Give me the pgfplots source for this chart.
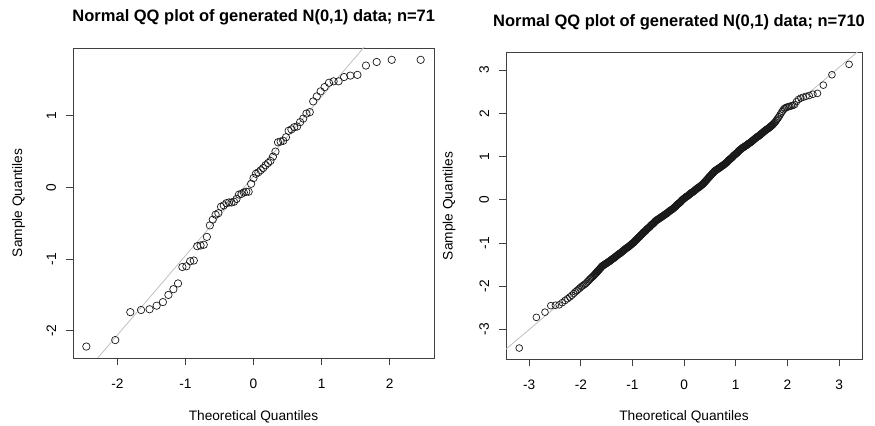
\documentclass[border=0pt]{standalone}
\usepackage{pgfplots}
\pgfplotsset{compat=1.18}
\usepackage{pgfplotstable}
\usepackage{fontspec}
\setmainfont{Liberation Sans}

% n = 71 : theoretical quantile, sample quantile
\pgfplotstableread{
x y
-2.456 -2.22
-2.031 -2.13
-1.810 -1.74
-1.652 -1.71
-1.527 -1.70
-1.423 -1.65
-1.331 -1.60
-1.250 -1.50
-1.177 -1.42
-1.109 -1.34
-1.045 -1.11
-0.986 -1.10
-0.930 -1.03
-0.877 -1.02
-0.827 -0.82
-0.778 -0.81
-0.731 -0.80
-0.685 -0.69
-0.641 -0.53
-0.599 -0.45
-0.557 -0.38
-0.516 -0.36
-0.477 -0.27
-0.437 -0.25
-0.398 -0.22
-0.360 -0.21
-0.323 -0.21
-0.286 -0.20
-0.249 -0.16
-0.214 -0.10
-0.177 -0.09
-0.142 -0.07
-0.106 -0.06
-0.071 -0.06
-0.035 0.05
0.000 0.13
0.035 0.19
0.071 0.21
0.106 0.24
0.142 0.27
0.177 0.31
0.214 0.34
0.249 0.37
0.286 0.43
0.323 0.50
0.360 0.63
0.398 0.64
0.437 0.65
0.477 0.70
0.516 0.79
0.557 0.81
0.599 0.84
0.641 0.85
0.685 0.91
0.731 0.96
0.778 1.03
0.827 1.05
0.877 1.20
0.930 1.27
0.986 1.34
1.045 1.40
1.109 1.46
1.177 1.48
1.250 1.48
1.331 1.54
1.423 1.56
1.527 1.57
1.652 1.70
1.810 1.75
2.031 1.78
2.456 1.78
}\leftdata

% n = 710 : theoretical quantile, sample quantile
\pgfplotstableread{
x y
-3.194 -3.43
-2.862 -2.72
-2.695 -2.60
-2.582 -2.45
-2.494 -2.44
-2.421 -2.43
-2.360 -2.38
-2.306 -2.33
-2.260 -2.29
-2.215 -2.25
-2.176 -2.21
-2.139 -2.17
-2.106 -2.13
-2.075 -2.10
-2.045 -2.07
-2.018 -2.04
-1.991 -2.01
-1.966 -1.99
-1.942 -1.97
-1.920 -1.95
-1.898 -1.93
-1.876 -1.90
-1.856 -1.88
-1.837 -1.85
-1.818 -1.83
-1.800 -1.81
-1.782 -1.79
-1.765 -1.77
-1.749 -1.75
-1.733 -1.73
-1.72 -1.71
-1.71 -1.70
-1.70 -1.69
-1.69 -1.67
-1.68 -1.66
-1.67 -1.65
-1.66 -1.63
-1.65 -1.62
-1.64 -1.61
-1.63 -1.59
-1.62 -1.58
-1.61 -1.57
-1.60 -1.55
-1.59 -1.54
-1.58 -1.53
-1.57 -1.52
-1.56 -1.51
-1.55 -1.51
-1.54 -1.50
-1.53 -1.49
-1.52 -1.48
-1.51 -1.47
-1.50 -1.47
-1.49 -1.46
-1.48 -1.45
-1.47 -1.44
-1.46 -1.43
-1.45 -1.43
-1.44 -1.42
-1.43 -1.41
-1.42 -1.40
-1.41 -1.39
-1.40 -1.38
-1.39 -1.37
-1.38 -1.36
-1.37 -1.36
-1.36 -1.35
-1.35 -1.34
-1.34 -1.33
-1.33 -1.32
-1.32 -1.31
-1.31 -1.30
-1.30 -1.29
-1.29 -1.28
-1.28 -1.27
-1.27 -1.26
-1.26 -1.25
-1.25 -1.25
-1.24 -1.24
-1.23 -1.23
-1.22 -1.22
-1.21 -1.21
-1.20 -1.20
-1.19 -1.19
-1.18 -1.18
-1.17 -1.17
-1.16 -1.16
-1.15 -1.15
-1.14 -1.14
-1.13 -1.13
-1.12 -1.12
-1.11 -1.11
-1.10 -1.11
-1.09 -1.10
-1.08 -1.09
-1.07 -1.08
-1.06 -1.07
-1.05 -1.06
-1.04 -1.05
-1.03 -1.04
-1.02 -1.03
-1.01 -1.02
-1.00 -1.01
-0.99 -1.00
-0.98 -0.99
-0.97 -0.98
-0.96 -0.97
-0.95 -0.95
-0.94 -0.94
-0.93 -0.93
-0.92 -0.92
-0.91 -0.91
-0.90 -0.89
-0.89 -0.88
-0.88 -0.87
-0.87 -0.86
-0.86 -0.85
-0.85 -0.83
-0.84 -0.82
-0.83 -0.81
-0.82 -0.80
-0.81 -0.79
-0.80 -0.77
-0.79 -0.76
-0.78 -0.75
-0.77 -0.74
-0.76 -0.73
-0.75 -0.72
-0.74 -0.71
-0.73 -0.69
-0.72 -0.68
-0.71 -0.67
-0.70 -0.66
-0.69 -0.65
-0.68 -0.64
-0.67 -0.63
-0.66 -0.62
-0.65 -0.60
-0.64 -0.59
-0.63 -0.58
-0.62 -0.57
-0.61 -0.56
-0.60 -0.55
-0.59 -0.54
-0.58 -0.53
-0.57 -0.51
-0.56 -0.50
-0.55 -0.49
-0.54 -0.48
-0.53 -0.47
-0.52 -0.46
-0.51 -0.46
-0.50 -0.45
-0.49 -0.44
-0.48 -0.43
-0.47 -0.42
-0.46 -0.42
-0.45 -0.41
-0.44 -0.40
-0.43 -0.39
-0.42 -0.38
-0.41 -0.38
-0.40 -0.37
-0.39 -0.36
-0.38 -0.35
-0.37 -0.34
-0.36 -0.33
-0.35 -0.33
-0.34 -0.32
-0.33 -0.31
-0.32 -0.30
-0.31 -0.29
-0.30 -0.28
-0.29 -0.27
-0.28 -0.26
-0.27 -0.25
-0.26 -0.24
-0.25 -0.24
-0.24 -0.23
-0.23 -0.22
-0.22 -0.21
-0.21 -0.20
-0.20 -0.19
-0.19 -0.18
-0.18 -0.17
-0.17 -0.16
-0.16 -0.15
-0.15 -0.13
-0.14 -0.12
-0.13 -0.11
-0.12 -0.10
-0.11 -0.09
-0.10 -0.08
-0.09 -0.07
-0.08 -0.06
-0.07 -0.05
-0.06 -0.04
-0.05 -0.02
-0.04 -0.01
-0.03 0.00
-0.02 0.01
-0.01 0.02
0.00 0.03
0.01 0.04
0.02 0.05
0.03 0.06
0.04 0.07
0.05 0.08
0.06 0.08
0.07 0.09
0.08 0.10
0.09 0.11
0.10 0.12
0.11 0.13
0.12 0.14
0.13 0.15
0.14 0.16
0.15 0.17
0.16 0.17
0.17 0.18
0.18 0.19
0.19 0.20
0.20 0.21
0.21 0.22
0.22 0.23
0.23 0.24
0.24 0.25
0.25 0.26
0.26 0.27
0.27 0.28
0.28 0.28
0.29 0.29
0.30 0.30
0.31 0.31
0.32 0.32
0.33 0.33
0.34 0.34
0.35 0.35
0.36 0.36
0.37 0.37
0.38 0.38
0.39 0.40
0.40 0.41
0.41 0.42
0.42 0.44
0.43 0.45
0.44 0.46
0.45 0.48
0.46 0.49
0.47 0.50
0.48 0.52
0.49 0.53
0.50 0.54
0.51 0.56
0.52 0.57
0.53 0.58
0.54 0.60
0.55 0.61
0.56 0.62
0.57 0.63
0.58 0.65
0.59 0.66
0.60 0.67
0.61 0.68
0.62 0.69
0.63 0.69
0.64 0.70
0.65 0.71
0.66 0.72
0.67 0.73
0.68 0.73
0.69 0.74
0.70 0.75
0.71 0.76
0.72 0.77
0.73 0.78
0.74 0.79
0.75 0.79
0.76 0.80
0.77 0.81
0.78 0.82
0.79 0.83
0.80 0.84
0.81 0.85
0.82 0.86
0.83 0.87
0.84 0.88
0.85 0.90
0.86 0.91
0.87 0.92
0.88 0.93
0.89 0.94
0.90 0.95
0.91 0.96
0.92 0.97
0.93 0.98
0.94 0.99
0.95 1.01
0.96 1.02
0.97 1.03
0.98 1.04
0.99 1.05
1.00 1.06
1.01 1.07
1.02 1.08
1.03 1.09
1.04 1.10
1.05 1.12
1.06 1.13
1.07 1.14
1.08 1.15
1.09 1.16
1.10 1.17
1.11 1.18
1.12 1.19
1.13 1.20
1.14 1.21
1.15 1.21
1.16 1.22
1.17 1.23
1.18 1.24
1.19 1.25
1.20 1.25
1.21 1.26
1.22 1.27
1.23 1.28
1.24 1.29
1.25 1.30
1.26 1.31
1.27 1.31
1.28 1.32
1.29 1.33
1.30 1.34
1.31 1.35
1.32 1.36
1.33 1.37
1.34 1.38
1.35 1.39
1.36 1.40
1.37 1.41
1.38 1.42
1.39 1.43
1.40 1.44
1.41 1.45
1.42 1.46
1.43 1.46
1.44 1.47
1.45 1.48
1.46 1.49
1.47 1.50
1.48 1.51
1.49 1.52
1.50 1.53
1.51 1.54
1.52 1.55
1.53 1.56
1.54 1.57
1.55 1.58
1.56 1.59
1.57 1.60
1.58 1.61
1.59 1.62
1.60 1.63
1.61 1.63
1.62 1.64
1.63 1.65
1.64 1.66
1.65 1.67
1.66 1.68
1.67 1.69
1.68 1.70
1.69 1.71
1.70 1.72
1.71 1.73
1.72 1.74
1.733 1.76
1.749 1.78
1.765 1.80
1.782 1.83
1.800 1.86
1.818 1.89
1.837 1.92
1.856 1.96
1.876 2.00
1.898 2.04
1.920 2.08
1.942 2.11
1.966 2.13
1.991 2.14
2.018 2.15
2.045 2.16
2.075 2.17
2.106 2.18
2.139 2.20
2.176 2.27
2.215 2.32
2.260 2.35
2.306 2.37
2.360 2.39
2.421 2.41
2.494 2.44
2.582 2.46
2.695 2.65
2.862 2.89
3.194 3.13
}\rightdata

\pgfplotsset{
  qq/.style={
    scale only axis,
    anchor=south west,
    axis line style={black!75, line width=0.8bp},
    tick style={black!75, line width=0.8bp},
    major tick length=7bp,
    tick align=outside,
    tick pos=left,
    /pgf/number format/assume math mode=true,
    ticklabel style={font=\fontsize{13.7bp}{16bp}\selectfont},
    xticklabel shift=10.6bp,
    yticklabel style={rotate=90, anchor=south},
    yticklabel shift=6.4bp,
  },
  qqpts/.style={only marks, mark=o, mark size=#1,
    mark options={line width=0.7bp, black!90}},
  qqline/.style={no marks, gray!50, line width=0.8bp},
}

\begin{document}
\begin{tikzpicture}
\useasboundingbox (0bp,0bp) rectangle (875bp,426bp);

\begin{axis}[qq,
  at={(73bp,68bp)}, width=361bp, height=310bp,
  xmin=-2.652, xmax=2.652, ymin=-2.38, ymax=1.945,
  xtick={-2,-1,0,1,2}, ytick={-2,-1,0,1}]
  \addplot[qqpts=3.7bp] table[x=x,y=y]{\leftdata};
  \addplot[qqline] coordinates {(-3,-3.168) (3,3.480)};
\end{axis}

\begin{axis}[qq,
  at={(506bp,66.7bp)}, width=356.3bp, height=306.6bp,
  xmin=-3.45, xmax=3.45, ymin=-3.69, ymax=3.40,
  xtick={-3,-2,-1,0,1,2,3}, ytick={-3,-2,-1,0,1,2,3}]
  \addplot[qqpts=3.4bp] table[x=x,y=y]{\rightdata};
  \addplot[qqline] coordinates {(-4,-4.01) (4,4.07)};
\end{axis}

\tikzset{lab/.style={inner sep=0pt, font=\fontsize{13.7bp}{16bp}\selectfont},
         ttl/.style={inner sep=0pt, font=\bfseries\fontsize{16.5bp}{20bp}\selectfont}}
\node[ttl, anchor=base] at (253.8bp,404bp) {Normal QQ plot of generated N(0,1) data; n=71};
\node[ttl, anchor=base] at (679bp,399.5bp) {Normal QQ plot of generated N(0,1) data; n=710};
\node[lab, anchor=base] at (253.5bp,5.3bp) {Theoretical Quantiles};
\node[lab, anchor=base] at (684bp,5.3bp) {Theoretical Quantiles};
\node[lab, anchor=base, rotate=90] at (22bp,223bp) {Sample Quantiles};
\node[lab, anchor=base, rotate=90] at (452.5bp,220bp) {Sample Quantiles};
\end{tikzpicture}
\end{document}
